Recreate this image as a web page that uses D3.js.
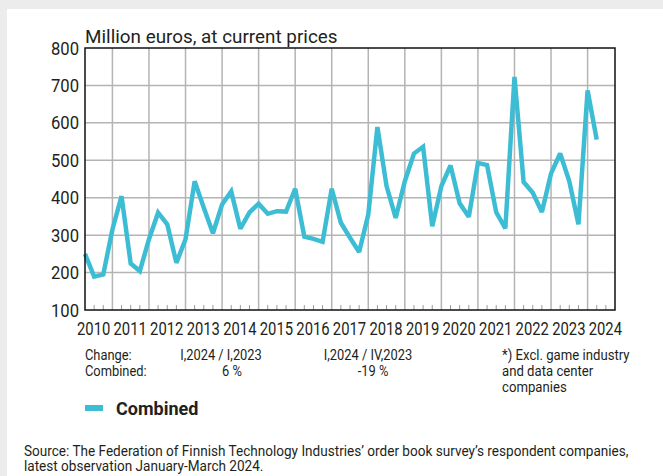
<!DOCTYPE html>
<html>
<head>
<meta charset="utf-8">
<script src="https://cdn.jsdelivr.net/npm/d3@7"></script>
<style>
  html, body { margin: 0; padding: 0; background: #ececec; }
  svg { display: block; }
  text { font-family: Roboto, "Noto Sans", sans-serif; fill: #231f20; }
</style>
</head>
<body>
<div id="chart"></div>
<script>
// quarterly values, 2010 Q1 .. 2024 Q1 (million euros)
var quarters = d3.range(57);
var combined = [
  250, 189, 195, 315, 404, 224, 204, 289,
  360, 329, 226, 289, 444, 373, 305, 382,
  417, 317, 361, 384, 357, 364, 363, 424,
  296, 290, 282, 424, 333, 293, 255, 355,
  589, 431, 346, 444, 518, 536, 324, 431,
  486, 385, 349, 493, 487, 361, 318, 723,
  442, 413, 362, 465, 518, 444, 329, 687,
  555
];
var years = d3.range(2010, 2025);
var yTicks = [100, 200, 300, 400, 500, 600, 700, 800];
var changeHeads = ["Change:", "I,2024 / I,2023", "I,2024 / IV,2023"];
var changeVals = ["Combined:", "6 %", "-19 %"];
var noteLines = ["*) Excl. game industry", "and data center", "companies"];
var sourceLines = [
  "Source: The Federation of Finnish Technology Industries\u2019 order book survey\u2019s respondent companies,",
  "latest observation January-March 2024."
];

var W = 663, H = 476;
var plotLeft = 85, plotRight = 615, plotTop = 48, plotBottom = 310;
var lineColor = "#3dbdd4";

var svg = d3.select("#chart").append("svg")
  .attr("width", W)
  .attr("height", H);

// white panel
svg.append("rect")
  .attr("x", 7).attr("y", 9)
  .attr("width", W - 7).attr("height", H - 9)
  .attr("fill", "#fff");

var x = d3.scaleLinear().domain([0, 58]).range([plotLeft, plotRight]);
var y = d3.scaleLinear().domain([100, 800]).range([plotBottom, plotTop]);

// condensed-looking text: scale horizontally around the anchor
function addText(g, str, tx, ty, size, sx, anchor, weight) {
  return g.append("text")
    .attr("transform", "translate(" + tx + "," + ty + ") scale(" + sx + ",1)")
    .attr("font-size", size)
    .attr("font-weight", weight || 400)
    .attr("text-anchor", anchor || "start")
    .text(str);
}

var grid = svg.append("g");
// horizontal grid
grid.selectAll("line.h")
  .data(yTicks.slice(1, -1))
  .enter().append("line")
  .attr("x1", plotLeft).attr("x2", plotRight)
  .attr("y1", function (d) { return y(d); })
  .attr("y2", function (d) { return y(d); })
  .attr("stroke", "#b4b4b4")
  .attr("stroke-width", 1.5);
// vertical grid at last quarter of each year
grid.selectAll("line.v")
  .data(quarters.filter(function (q) { return q % 4 === 3; }))
  .enter().append("line")
  .attr("x1", function (d) { return x(d); })
  .attr("x2", function (d) { return x(d); })
  .attr("y1", plotTop).attr("y2", plotBottom)
  .attr("stroke", "#b4b4b4")
  .attr("stroke-width", 1.5);
// small quarter ticks
grid.selectAll("line.t")
  .data(d3.range(1, 58).filter(function (q) { return q % 4 !== 3; }))
  .enter().append("line")
  .attr("x1", function (d) { return x(d); })
  .attr("x2", function (d) { return x(d); })
  .attr("y1", plotBottom - 5).attr("y2", plotBottom)
  .attr("stroke", "#9a9a9a")
  .attr("stroke-width", 1);

// data line
var line = d3.line()
  .x(function (d, i) { return x(quarters[i]); })
  .y(function (d) { return y(d); });
svg.append("path")
  .datum(combined)
  .attr("d", line)
  .attr("fill", "none")
  .attr("stroke", lineColor)
  .attr("stroke-width", 4.5)
  .attr("stroke-linejoin", "miter")
  .attr("stroke-miterlimit", 2.5);

// frame
svg.append("rect")
  .attr("x", plotLeft).attr("y", plotTop)
  .attr("width", plotRight - plotLeft).attr("height", plotBottom - plotTop)
  .attr("fill", "none")
  .attr("stroke", "#111")
  .attr("stroke-width", 1.5);

var labels = svg.append("g");
yTicks.forEach(function (v) {
  addText(labels, v, 79, y(v) + 6.5, 18.5, 0.9, "end");
});
years.forEach(function (yr, k) {
  addText(labels, yr, x(1 + 4 * k) - 0.5, 335, 18.5, 0.8, "middle");
});
addText(labels, "Million euros, at current prices", plotLeft, 43, 18.5, 1.02, "start");

// change table
var table = svg.append("g");
var headX = [85, 221, 368];
var valX = [85, 232, 373];
changeHeads.forEach(function (s, c) {
  addText(table, s, headX[c], 360, 14, 0.92, c === 0 ? "start" : "middle");
});
changeVals.forEach(function (s, c) {
  addText(table, s, valX[c], 376, 14, 0.92, c === 0 ? "start" : "middle");
});
noteLines.forEach(function (s, i) {
  addText(table, s, 502, 360 + i * 16, 14, 0.94, "start");
});

// legend
svg.append("rect")
  .attr("x", 85).attr("y", 405)
  .attr("width", 18).attr("height", 6)
  .attr("fill", lineColor);
addText(svg, "Combined", 116, 415, 18, 1.0, "start", 700);

// source
sourceLines.forEach(function (s, i) {
  addText(svg, s, 24, 456 + i * 15, 14, 0.97, "start");
});
</script>
</body>
</html>
